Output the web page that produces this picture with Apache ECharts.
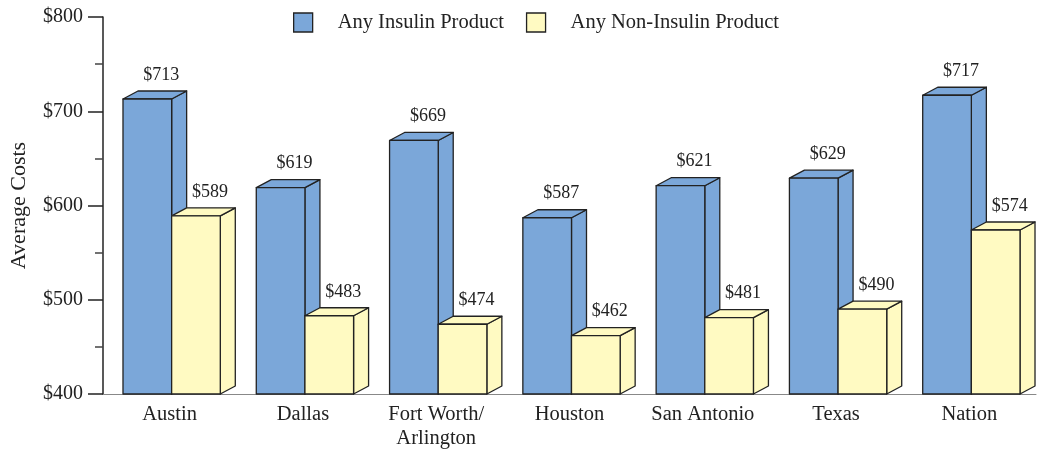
<!DOCTYPE html>
<html>
<head>
<meta charset="utf-8">
<script src="https://cdn.jsdelivr.net/npm/echarts@6/dist/echarts.min.js"></script>
<style>
html, body { margin: 0; padding: 0; background: #fff; }
#chart { width: 1043px; height: 450px; }
</style>
</head>
<body>
<div id="chart"></div>
<script>
var categories = ['Austin', 'Dallas', 'Fort Worth/\nArlington', 'Houston', 'San Antonio', 'Texas', 'Nation'];
var insulin = [713, 619, 669, 587, 621, 629, 717];
var nonInsulin = [589, 483, 474, 462, 481, 490, 574];

var FONT = '"Liberation Serif", "Times New Roman", serif';
var BLUE = '#7ba7d9';
var YELLOW = '#fffac2';
var EDGE = '#222';
var DX = 15, DY = 8;

function make_bar_renderer(offset, color) {
    return function (params, api) {
        var idx = api.value(0);
        var v = api.value(1);
        var base = api.coord([idx, 400]);
        var top = api.coord([idx, v]);
        var bw = api.size([1, 0])[0];
        var w = bw * 0.365;
        var x0 = base[0] + offset * bw;
        var x1 = x0 + w;
        var yb = base[1], yt = top[1];
        var style = { fill: color, stroke: EDGE, lineWidth: 1.3, lineJoin: 'round' };
        return {
            type: 'group',
            children: [
                { type: 'polygon', shape: { points: [[x1, yb], [x1 + DX, yb - DY], [x1 + DX, yt - DY], [x1, yt]] }, style: style },
                { type: 'polygon', shape: { points: [[x0, yt], [x0 + DX, yt - DY], [x1 + DX, yt - DY], [x1, yt]] }, style: style },
                { type: 'rect', shape: { x: x0, y: yt, width: w, height: yb - yt }, style: style },
                {
                    type: 'text',
                    style: {
                        text: '$' + v, x: (x0 + x1) / 2 + 14, y: yt - DY - 16,
                        align: 'center', verticalAlign: 'middle',
                        font: '18px ' + FONT, fill: '#222'
                    }
                }
            ]
        };
    };
}

var chart = echarts.init(document.getElementById('chart'));
chart.setOption({
    animation: false,
    textStyle: { fontFamily: FONT },
    grid: { left: 103, right: 7, top: 17, bottom: 56, containLabel: false, outerBoundsMode: 'none' },
    legend: {
        top: 7, left: 288,
        itemWidth: 19, itemHeight: 19, itemGap: 22,
        textStyle: { fontSize: 20.5, color: '#222', fontFamily: FONT, padding: [0, 0, 0, 20] },
        data: [
            { name: 'Any Insulin Product', icon: 'rect', itemStyle: { color: BLUE, borderColor: EDGE, borderWidth: 1.3 } },
            { name: 'Any Non-Insulin Product', icon: 'rect', itemStyle: { color: YELLOW, borderColor: EDGE, borderWidth: 1.3 } }
        ]
    },
    xAxis: {
        type: 'category',
        data: categories,
        axisLine: { lineStyle: { color: '#888', width: 1 } },
        axisTick: { show: false },
        axisLabel: { interval: 0, fontSize: 20.5, color: '#222', fontFamily: FONT, margin: 9, lineHeight: 24 }
    },
    yAxis: {
        type: 'value',
        min: 400, max: 800, interval: 100,
        name: 'Average Costs',
        nameLocation: 'center', nameGap: 73, nameRotate: 90,
        nameTextStyle: { fontSize: 22, color: '#222', fontFamily: FONT },
        axisLine: { show: true, lineStyle: { color: '#222', width: 1.5 } },
        axisTick: { show: true, length: 15, lineStyle: { color: '#222', width: 1.5 } },
        minorTick: { show: true, splitNumber: 2, length: 8, lineStyle: { color: '#444', width: 1.5 } },
        splitLine: { show: false },
        axisLabel: { fontSize: 20, color: '#222', fontFamily: FONT, margin: 20, formatter: '${value}' }
    },
    series: [
        {
            name: 'Any Insulin Product',
            type: 'custom',
            renderItem: make_bar_renderer(-0.35, BLUE),
            itemStyle: { color: BLUE },
            encode: { x: 0, y: 1 },
            data: insulin.map(function (v, i) { return [i, v]; })
        },
        {
            name: 'Any Non-Insulin Product',
            type: 'custom',
            renderItem: make_bar_renderer(0.015, YELLOW),
            itemStyle: { color: YELLOW },
            encode: { x: 0, y: 1 },
            data: nonInsulin.map(function (v, i) { return [i, v]; })
        }
    ]
});
</script>
</body>
</html>
